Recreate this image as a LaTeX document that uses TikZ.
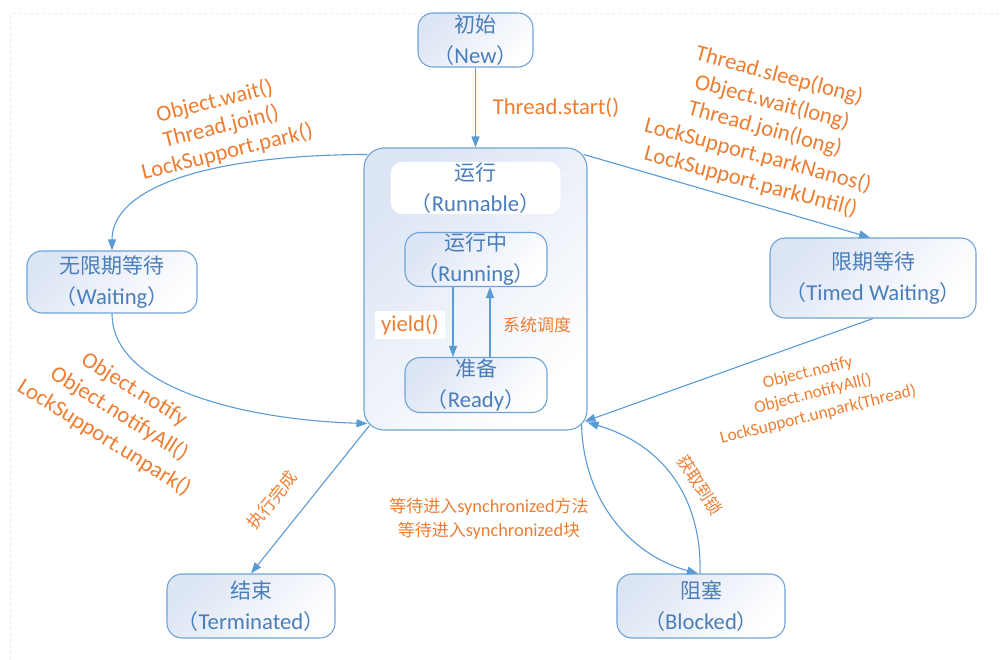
\documentclass[tikz,border=0pt]{standalone}
\usepackage{fontspec}
\setmainfont{Carlito}[Scale=1.08]
\newfontfamily\cjkfont{Noto Sans CJK SC}
\usetikzlibrary{arrows.meta,calc}
\definecolor{lineblue}{HTML}{5B9BD5}
\definecolor{boxborder}{HTML}{6FA3D8}
\definecolor{boxtext}{HTML}{4A7EBB}
\definecolor{labelorange}{HTML}{ED7D31}
\definecolor{boxshade}{HTML}{DCE5F4}
\definecolor{framegray}{HTML}{EBEBEB}
\newcommand\zh[1]{{\cjkfont #1}}
\begin{document}
\begin{tikzpicture}[x=1pt,y=-1pt,
  state/.style={draw=boxborder, line width=1.1pt, rounded corners=15pt,
    top color=boxshade, middle color=white, bottom color=white, shading angle=45,
    text=boxtext, align=center, font=\fontsize{21}{31}\selectfont, inner sep=0pt},
  conn/.style={draw=lineblue, line width=1.1pt, -{Triangle[length=11pt,width=8pt]}},
  lab/.style={text=labelorange, align=center, inner sep=0pt, font=\fontsize{21}{26}\selectfont}]
\useasboundingbox (0,0) rectangle (1001,660);
\draw[framegray, dashed, line width=1pt] (10,660) -- (10,14) -- (1001,14);

% states
\node[state, minimum width=115pt, minimum height=54pt] (new) at (475.5,40) {\zh{初始}\\\zh{（}New\zh{）}};
\node[state, rounded corners=20pt, minimum width=223pt, minimum height=282pt] (run) at (475.5,289) {};
\node[fill=white, rounded corners=12pt, minimum width=170pt, minimum height=52pt, inner sep=0pt,
  text=boxtext, align=center, font=\fontsize{21}{31}\selectfont] (runtitle) at (475.5,188) {\zh{运行}\\\zh{（}Runnable\zh{）}};
\node[state, minimum width=142pt, minimum height=54pt] (running) at (476,259.5) {\zh{运行中}\\\zh{（}Running\zh{）}};
\node[state, minimum width=142pt, minimum height=55pt] (ready) at (476,385) {\zh{准备}\\\zh{（}Ready\zh{）}};
\node[state, minimum width=170pt, minimum height=62pt] (wait) at (112,282) {\zh{无限期等待}\\\zh{（}Waiting\zh{）}};
\node[state, minimum width=206pt, minimum height=80pt] (timed) at (873,278) {\zh{限期等待}\\\zh{（}Timed Waiting\zh{）}};
\node[state, minimum width=168pt, minimum height=64pt] (term) at (251,606) {\zh{结束}\\\zh{（}Terminated\zh{）}};
\node[state, minimum width=168pt, minimum height=64pt] (block) at (701,606) {\zh{阻塞}\\\zh{（}Blocked\zh{）}};

% connectors
\draw[conn] (new.south) -- (run.north);
\draw[conn] ($(run.north west)+(4,7)$) .. controls (200,155) and (112,190) .. (wait.north);
\draw[conn] (wait.south) .. controls (112,390) and (250,420) .. ($(run.south west)+(4,-7)$);
\draw[conn] ($(run.north east)+(-4,7)$) -- ($(timed.north)+(-3,0)$);
\draw[conn] (timed.south) -- ($(run.south east)+(-3,-9)$);
\draw[conn] ($(run.south east)+(-6,-7)$) .. controls (583,500) and (630,555) .. ($(block.north)+(-3,0)$);
\draw[conn] ($(block.north)+(-1,0)$) .. controls (702,500) and (665,445) .. ($(run.south east)+(0,-8)$);
\draw[conn] ($(run.south west)+(6,-5)$) -- (term.north);
\draw[conn] ($(running.south)+(-23,0)$) -- ($(ready.north)+(-23,0)$);
\draw[conn] ($(ready.north)+(14,0)$) -- ($(running.south)+(14,0)$);

% labels
\node[lab] (lstart) at (556,108) {Thread.start()};
\node[lab, rotate=14] (lwait) at (221,127) {Object.wait()\\Thread.join()\\LockSupport.park()};
\node[lab, rotate=-32, font=\fontsize{21}{28.5}\selectfont] (lnotl) at (119,414) {Object.notify\\Object.notifyAll()\\LockSupport.unpark()};
\node[lab, rotate=-15, font=\fontsize{21}{27.5}\selectfont] (ltimed) at (765,129) {Thread.sleep(long)\\Object.wait(long)\\Thread.join(long)\\LockSupport.parkNanos()\\LockSupport.parkUntil()};
\node[lab, rotate=14, font=\fontsize{16}{21.5}\selectfont] (lnotr) at (813,394) {Object.notify\\Object.notifyAll()\\LockSupport.unpark(Thread)};
\node[lab, font=\fontsize{17}{24}\selectfont] (lsync) at (489,519) {\zh{等待进入}synchronized\zh{方法}\\\zh{等待进入}synchronized\zh{块}};
\node[lab, rotate=-57, font=\fontsize{17}{20}\selectfont] (llock) at (700,485) {\zh{获取到锁}};
\node[lab, rotate=51, font=\fontsize{17}{20}\selectfont] (lfinish) at (272,500) {\zh{执行完成}};
\node[lab, fill=white, inner xsep=6pt, inner ysep=4pt] (lyield) at (410,325) {yield()};
\node[lab, font=\fontsize{17}{20}\selectfont] (lsched) at (537,325) {\zh{系统调度}};
\end{tikzpicture}
\end{document}
